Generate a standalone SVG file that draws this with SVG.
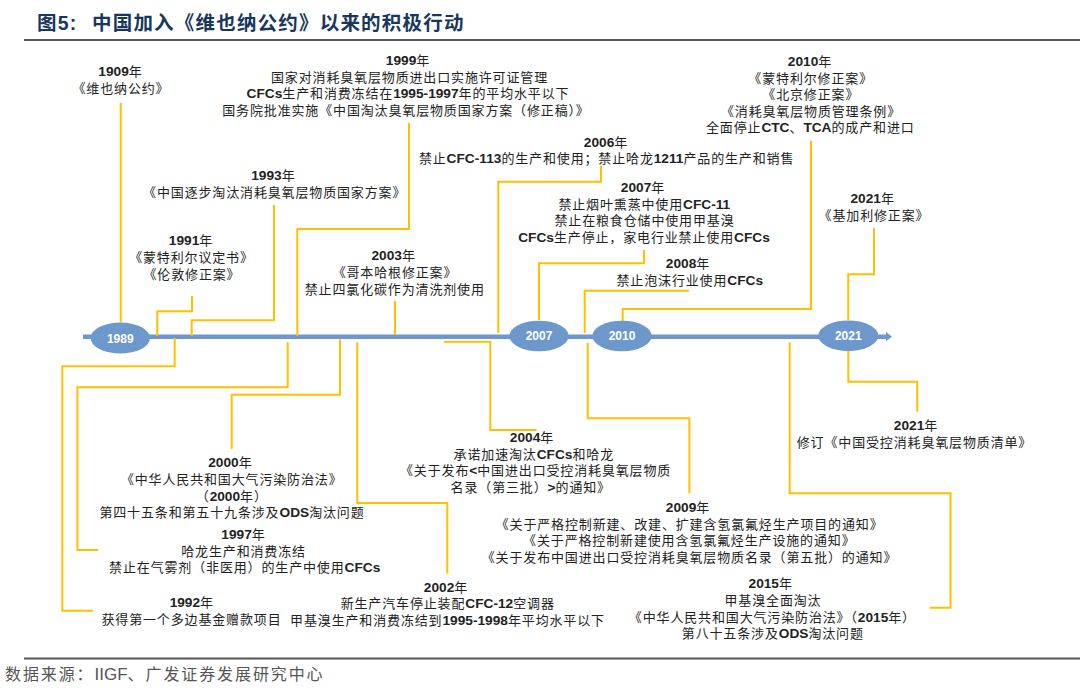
<svg xmlns="http://www.w3.org/2000/svg" width="1080" height="689" viewBox="0 0 1080 689">
<style>
text{font-family:"Liberation Sans","Noto Sans CJK SC",sans-serif;font-size:13px;fill:#222;text-anchor:middle;letter-spacing:.85px}
.b{font-weight:bold;letter-spacing:0;font-size:13.7px}
.c{fill:none;stroke:#ffc000;stroke-width:2}
.e{fill:#6d98cb}
.l{fill:#fff;font-size:12px;font-weight:bold;letter-spacing:0}
.t{font-size:19.500px;font-weight:bold;fill:#17375e;text-anchor:start;letter-spacing:1.2px}
.s{font-size:16px;fill:#555;text-anchor:start;letter-spacing:1.9px}
.sl{font-size:17px;letter-spacing:0}
</style>
<g id="header"><text class="t" x="37" y="30">图5:</text><text class="t" x="92" y="30">中国加入《维也纳公约》以来的积极行动</text><rect x="24" y="39" width="1056" height="2" fill="#555"/></g>
<g id="axis"><path d="M83 334.500H886V332L892 336.700 886 341.300V339H83Z" fill="#6d98cb"/></g>
<g id="connectors">
<path class="c" d="M120.700 103V322"/>
<path class="c" d="M192 296V311.300H157.300V336"/>
<path class="c" d="M274 205V320.300H191.700V336"/>
<path class="c" d="M409 123V229H297.300V336"/>
<path class="c" d="M395 301V335"/>
<path class="c" d="M601 165.700V181.700H498.300V333"/>
<path class="c" d="M644 250V263.300H539V320"/>
<path class="c" d="M689 290.700H584.700V333"/>
<path class="c" d="M811 141V309H622.700V321"/>
<path class="c" d="M874 228V274.300H848.200V320"/>
<path class="c" d="M174.700 338V366.300H62.300V610.700H93"/>
<path class="c" d="M287.700 342.300V387.300H77.400V550H98"/>
<path class="c" d="M340 339.300V394.700H231.700V449"/>
<path class="c" d="M357.300 342.300V503H447.300V573.700"/>
<path class="c" d="M444 341.700H490.300V430H536.500"/>
<path class="c" d="M587.700 342.700V418.300H689.400V493.300"/>
<path class="c" d="M789.700 342.300V493.300H950.500V607.700H929.800"/>
<path class="c" d="M848.300 350V381.700H917.300V411.700"/>
</g>
<g id="n1989"><ellipse class="e" cx="120.300" cy="338" rx="29.700" ry="15.500"/><text class="l" x="120.300" y="342.500">1989</text></g>
<g id="n2007"><ellipse class="e" cx="539" cy="336" rx="29.700" ry="15.300"/><text class="l" x="539" y="340.300">2007</text></g>
<g id="n2010"><ellipse class="e" cx="622" cy="336" rx="29.700" ry="15.300"/><text class="l" x="622" y="340.300">2010</text></g>
<g id="n2021"><ellipse class="e" cx="848.300" cy="335.700" rx="30" ry="15.300"/><text class="l" x="848.300" y="340.300">2021</text></g>
<g id="e1909"><text x="120.500" y="76"><tspan class="b">1909</tspan>年</text><text x="121" y="92.700">《维也纳公约》</text></g>
<g id="e1999"><text x="408" y="65"><tspan class="b">1999</tspan>年</text><text x="409.500" y="81.700">国家对消耗臭氧层物质进出口实施许可证管理</text><text x="408" y="98.300"><tspan class="b">CFCs</tspan>生产和消费冻结在<tspan class="b">1995-1997</tspan>年的平均水平以下</text><text x="406" y="115">国务院批准实施《中国淘汰臭氧层物质国家方案（修正稿）》</text></g>
<g id="e1993"><text x="273.400" y="180"><tspan class="b">1993</tspan>年</text><text x="274.700" y="197">《中国逐步淘汰消耗臭氧层物质国家方案》</text></g>
<g id="e1991"><text x="191" y="245"><tspan class="b">1991</tspan>年</text><text x="191.500" y="262">《蒙特利尔议定书》</text><text x="192" y="279">《伦敦修正案》</text></g>
<g id="e2003"><text x="393.600" y="260"><tspan class="b">2003</tspan>年</text><text x="395" y="277">《哥本哈根修正案》</text><text x="394.800" y="293.700">禁止四氯化碳作为清洗剂使用</text></g>
<g id="e2006"><text x="606" y="146.700"><tspan class="b">2006</tspan>年</text><text x="606.600" y="163">禁止<tspan class="b">CFC-113</tspan>的生产和使用；禁止哈龙<tspan class="b">1211</tspan>产品的生产和销售</text></g>
<g id="e2007"><text x="643" y="192"><tspan class="b">2007</tspan>年</text><text x="644.300" y="208.700">禁止烟叶熏蒸中使用<tspan class="b">CFC-11</tspan></text><text x="644.500" y="225">禁止在粮食仓储中使用甲基溴</text><text x="644" y="242"><tspan class="b">CFCs</tspan>生产停止，家电行业禁止使用<tspan class="b">CFCs</tspan></text></g>
<g id="e2008"><text x="688" y="268"><tspan class="b">2008</tspan>年</text><text x="689.800" y="285">禁止泡沫行业使用<tspan class="b">CFCs</tspan></text></g>
<g id="e2010"><text x="810" y="66"><tspan class="b">2010</tspan>年</text><text x="810.700" y="82.700">《蒙特利尔修正案》</text><text x="810.800" y="99">《北京修正案》</text><text x="811" y="115.700">《消耗臭氧层物质管理条例》</text><text x="810.300" y="132">全面停止<tspan class="b">CTC</tspan>、<tspan class="b">TCA</tspan>的成产和进口</text></g>
<g id="e2021a"><text x="872.600" y="203"><tspan class="b">2021</tspan>年</text><text x="874" y="220">《基加利修正案》</text></g>
<g id="e2021b"><text x="916" y="430"><tspan class="b">2021</tspan>年</text><text x="914.500" y="446.700">修订《中国受控消耗臭氧层物质清单》</text></g>
<g id="e1992"><text x="191.800" y="607"><tspan class="b">1992</tspan>年</text><text x="191.500" y="624">获得第一个多边基金赠款项目</text></g>
<g id="e1997"><text x="243.500" y="539"><tspan class="b">1997</tspan>年</text><text x="243.600" y="555.700">哈龙生产和消费冻结</text><text x="244.700" y="572.300">禁止在气雾剂（非医用）的生产中使用<tspan class="b">CFCs</tspan></text></g>
<g id="e2000"><text x="230.400" y="467.300"><tspan class="b">2000</tspan>年</text><text x="231.700" y="483.700">《中华人民共和国大气污染防治法》</text><text x="231.800" y="500.700">（<tspan class="b">2000</tspan>年）</text><text x="232" y="517.300">第四十五条和第五十九条涉及<tspan class="b">ODS</tspan>淘汰问题</text></g>
<g id="e2002"><text x="446" y="591.700"><tspan class="b">2002</tspan>年</text><text x="447.700" y="608.300">新生产汽车停止装配<tspan class="b">CFC-12</tspan>空调器</text><text x="447.500" y="625">甲基溴生产和消费冻结到<tspan class="b">1995-1998</tspan>年平均水平以下</text></g>
<g id="e2004"><text x="532" y="442"><tspan class="b">2004</tspan>年</text><text x="533.800" y="458.700">承诺加速淘汰<tspan class="b">CFCs</tspan>和哈龙</text><text x="535.600" y="475">《关于发布<tspan class="b">&lt;</tspan>中国进出口受控消耗臭氧层物质</text><text x="530.800" y="492.300">名录（第三批）<tspan class="b">&gt;</tspan>的通知》</text></g>
<g id="e2009"><text x="688" y="512"><tspan class="b">2009</tspan>年</text><text x="689.600" y="528.700">《关于严格控制新建、改建、扩建含氢氯氟烃生产项目的通知》</text><text x="689.300" y="545">《关于严格控制新建使用含氢氯氟烃生产设施的通知》</text><text x="689.500" y="561.700">《关于发布中国进出口受控消耗臭氧层物质名录（第五批）的通知》</text></g>
<g id="e2015"><text x="770.700" y="588"><tspan class="b">2015</tspan>年</text><text x="773" y="605">甲基溴全面淘汰</text><text x="772.400" y="621.700">《中华人民共和国大气污染防治法》（<tspan class="b">2015</tspan>年）</text><text x="772.800" y="638">第八十五条涉及<tspan class="b">ODS</tspan>淘汰问题</text></g>
<g id="footer"><rect x="24" y="657.500" width="1056" height="2" fill="#555"/><text class="s" x="5" y="680">数据来源：<tspan class="sl">IIGF</tspan>、广发证券发展研究中心</text></g>
</svg>
